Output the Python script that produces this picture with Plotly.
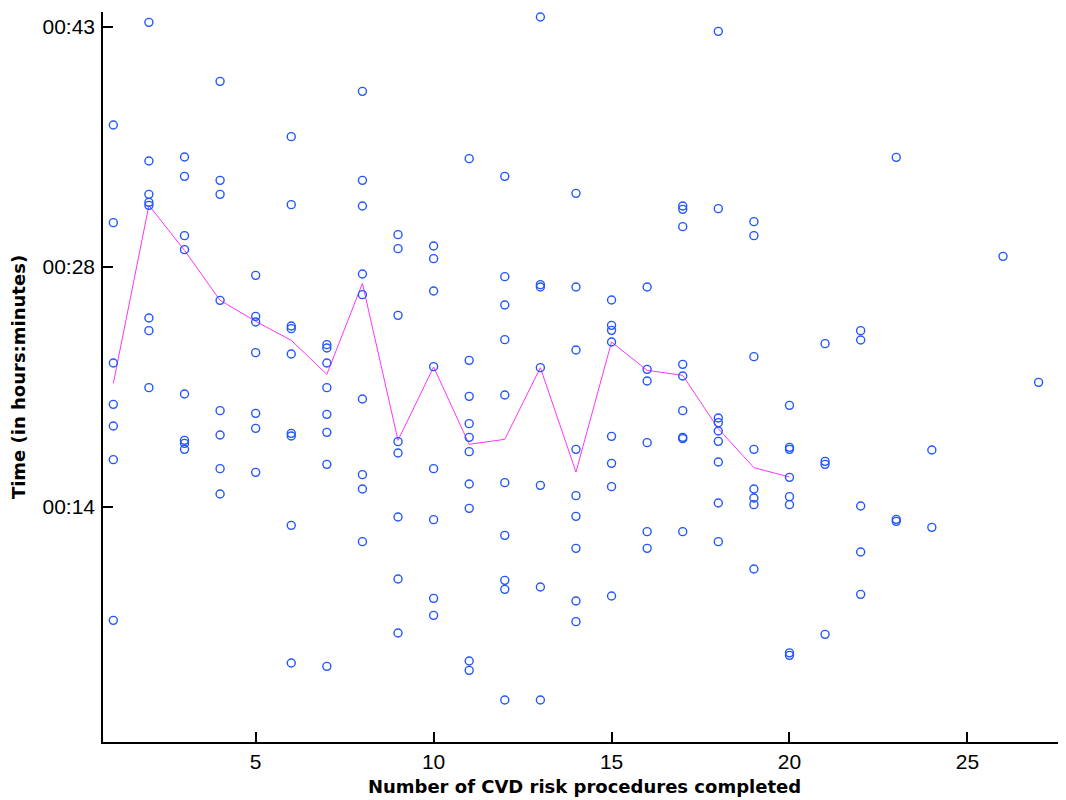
import plotly.graph_objects as go

# Scatter data: number of CVD risk procedures completed (x) vs time in minutes (y)
procedures = (
    [1] * 7 + [2] * 8 + [3] * 8 + [4] * 8 + [5] * 7 + [6] * 9 + [7] * 8 + [8] * 9
    + [9] * 8 + [10] * 8 + [11] * 10 + [12] * 10 + [13] * 7 + [14] * 9 + [15] * 8
    + [16] * 6 + [17] * 9 + [18] * 9 + [19] * 8 + [20] * 8 + [21] * 4 + [22] * 5
    + [23] * 3 + [24] * 2 + [26] * 1 + [27] * 1
)
minutes = [
    37.32, 31.46, 23.04, 20.56, 19.26, 17.24, 7.60,                 # 1
    43.48, 35.16, 33.16, 32.68, 32.50, 25.74, 24.98, 21.56,         # 2
    35.40, 34.24, 30.68, 29.84, 21.18, 18.40, 18.22, 17.86,         # 3
    39.94, 34.00, 33.16, 26.80, 20.18, 18.72, 16.70, 15.18,         # 4
    28.30, 25.84, 25.50, 23.66, 20.02, 19.12, 16.48,                # 5
    36.62, 32.54, 25.26, 25.10, 23.58, 18.82, 18.66, 13.30, 5.04,   # 6
    24.14, 23.94, 23.04, 21.56, 19.96, 18.88, 16.96, 4.84,          # 7
    39.34, 34.00, 32.46, 28.38, 27.14, 20.88, 16.34, 15.48, 12.32,  # 8
    30.74, 29.90, 25.90, 18.32, 17.64, 13.80, 10.08, 6.84,          # 9
    30.06, 29.30, 27.36, 22.82, 16.70, 13.64, 8.92, 7.90,           # 10
    35.30, 23.20, 21.04, 19.40, 18.58, 17.72, 15.78, 14.32, 5.16, 4.60,  # 11
    34.24, 28.22, 26.52, 24.44, 21.12, 15.86, 12.70, 10.00, 9.46, 2.82,  # 12
    43.80, 27.74, 27.60, 22.76, 15.70, 9.60, 2.82,                  # 13
    33.22, 27.60, 23.82, 17.86, 15.08, 13.84, 11.92, 8.76, 7.52,    # 14
    26.82, 25.30, 25.00, 24.30, 18.64, 17.02, 15.62, 9.06,          # 15
    27.60, 22.66, 21.96, 18.26, 12.92, 11.92,                       # 16
    32.46, 32.26, 31.22, 22.96, 22.26, 20.18, 18.58, 18.50, 12.92,  # 17
    42.94, 32.30, 19.74, 19.46, 18.96, 18.34, 17.10, 14.64, 12.32,  # 18
    31.52, 30.68, 23.42, 17.86, 15.48, 14.94, 14.54, 10.68,         # 19
    20.50, 17.98, 17.86, 16.18, 15.02, 14.54, 5.65, 5.50,           # 20
    24.20, 17.14, 16.96, 6.76,                                      # 21
    24.98, 24.42, 14.46, 11.70, 9.16,                               # 22
    35.38, 13.66, 13.54,                                            # 23
    17.82, 13.18,                                                   # 24
    29.44,                                                          # 26
    21.88,                                                          # 27
]

# Summary line (per number of procedures)
line_x = list(range(1, 21))
line_minutes = [21.82, 32.50, 29.80, 26.80, 25.54, 24.40, 22.36, 27.82, 18.40, 22.80,
                18.16, 18.46, 22.76, 16.50, 24.30, 22.60, 22.30, 19.10, 16.76, 16.20]

# Axis ticks (0.01, 0.02, 0.03 of a day expressed in minutes)
y_tick_vals = [14.4, 28.8, 43.2]
y_tick_text = ["00:14", "00:28", "00:43"]
x_tick_vals = [5, 10, 15, 20, 25]

fig = go.Figure()
fig.add_trace(go.Scatter(
    x=line_x, y=line_minutes, mode="lines",
    line=dict(color="#ff33ff", width=1),
    showlegend=False, hoverinfo="skip",
))
fig.add_trace(go.Scatter(
    x=procedures, y=minutes, mode="markers",
    marker=dict(symbol="circle-open", size=8, color="#2255ff", line=dict(width=1.4, color="#2255ff")),
    showlegend=False, hoverinfo="skip",
))

tick_font = dict(family="Liberation Sans, Arial, sans-serif", size=21, color="black")
title_font = dict(family="DejaVu Sans, sans-serif", size=18, color="black", weight="bold")

# The page body adds an 8px margin, so the figure is sized to fit the window.
fig.update_layout(
    width=1058, height=792,
    margin=dict(l=95, r=0, t=4, b=58),
    paper_bgcolor="white", plot_bgcolor="white",
    xaxis=dict(
        range=[0.71, 27.77], tickvals=x_tick_vals, ticks="inside", ticklen=10,
        tickcolor="black", tickwidth=1.5, showline=True, linecolor="black", linewidth=1.5,
        showgrid=False, zeroline=False, tickfont=tick_font,
        title=dict(text="Number of CVD risk procedures completed", font=title_font, standoff=8),
    ),
    yaxis=dict(
        range=[0.30, 44.10], tickvals=y_tick_vals, ticktext=y_tick_text, ticks="inside",
        ticklen=10, tickcolor="black", tickwidth=1.5, showline=True, linecolor="black",
        linewidth=1.5, showgrid=False, zeroline=False, tickfont=tick_font,
        ticklabelstandoff=2,
        title=dict(text="Time (in hours:minutes)", font=title_font, standoff=17),
    ),
)

fig.write_html("out.html")
